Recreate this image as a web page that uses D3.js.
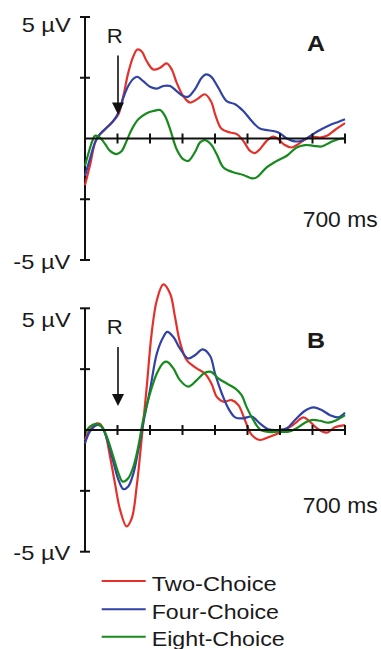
<!DOCTYPE html>
<html>
<head>
<meta charset="utf-8">
<script src="https://cdn.jsdelivr.net/npm/d3@7"></script>
<style>
  body { margin: 0; background: #fff; }
  svg text { font-family: "Liberation Sans", Arial, sans-serif; fill: #1a1a1a; }
</style>
</head>
<body>
<svg id="chart"></svg>
<script>
// values: [ms, µV]
var twoChoiceA = [[-100,-1.92],[-85,-1.12],[-64,0],[-38,0.38],[-13,0.72],[3,1.0],[18,1.75],[33,2.7],[49,3.39],[61,3.66],[74,3.59],[90,3.18],[110,2.84],[131,2.91],[151,3.09],[167,2.84],[182,2.3],[202,1.75],[223,1.48],[244,1.61],[269,1.82],[288,1.52],[302,0.93],[320,0.4],[346,0.25],[367,0.18],[387,-0.1],[408,-0.51],[423,-0.6],[438,-0.44],[459,-0.1],[479,0.08],[495,-0.03],[515,-0.27],[536,-0.37],[556,-0.23],[577,-0.03],[597,0.08],[623,0.04],[644,0.11],[669,0.35],[700,0.63]];
var fourChoiceA = [[-100,-1.53],[-85,-0.85],[-69,-0.16],[-54,0.18],[-33,0.45],[-13,0.72],[3,1.07],[18,1.68],[33,2.16],[49,2.46],[61,2.54],[79,2.36],[100,2.13],[121,2.05],[141,2.16],[162,2.16],[182,1.95],[202,1.75],[218,1.72],[238,2.02],[259,2.5],[272,2.64],[288,2.55],[310,2.09],[336,1.54],[362,1.41],[387,1.13],[413,0.72],[438,0.41],[464,0.34],[495,0.25],[521,0],[546,-0.12],[572,-0.07],[597,0.14],[623,0.35],[654,0.56],[679,0.68],[700,0.79]];
var eightChoiceA = [[-100,-1.12],[-90,-0.64],[-79,-0.16],[-69,0.11],[-54,0.04],[-38,-0.23],[-23,-0.51],[-3,-0.64],[13,-0.51],[28,-0.1],[44,0.38],[64,0.79],[90,1.04],[110,1.13],[131,1.17],[146,0.93],[162,0.38],[182,-0.44],[202,-0.85],[218,-0.92],[238,-0.57],[254,-0.16],[269,-0.07],[288,-0.25],[305,-0.64],[326,-1.19],[356,-1.39],[387,-1.5],[413,-1.64],[428,-1.6],[459,-1.19],[485,-0.96],[521,-0.71],[551,-0.37],[577,-0.27],[603,-0.3],[628,-0.33],[654,-0.16],[679,-0.03],[700,0]];

var twoChoiceB = [[-100,-0.41],[-85,0],[-64,0.27],[-54,0.25],[-38,-0.14],[-23,-1.09],[-8,-2.18],[8,-3.28],[28,-3.96],[44,-3.62],[59,-2.32],[74,-0.41],[90,1.78],[105,3.96],[121,5.33],[141,5.98],[162,5.6],[177,4.64],[192,3.62],[213,2.87],[244,2.53],[269,2.32],[290,1.88],[305,1.37],[326,1.16],[351,1.23],[372,1.02],[392,0.41],[413,-0.2],[438,-0.41],[464,-0.3],[490,-0.16],[515,0],[546,0.27],[572,0.52],[592,0.34],[618,0.03],[644,-0.11],[669,0.11],[700,0.2]];
var fourChoiceB = [[-100,-0.55],[-85,-0.07],[-64,0.2],[-49,0.14],[-33,-0.34],[-13,-1.3],[3,-2.05],[18,-2.43],[33,-2.32],[49,-1.78],[64,-0.82],[79,0.27],[100,1.64],[121,3.14],[141,3.82],[153,4.03],[172,3.82],[192,3.35],[218,2.94],[238,3.07],[262,3.31],[285,3.04],[300,2.32],[321,1.5],[341,0.89],[362,0.52],[387,0.48],[413,0.55],[438,0.27],[464,0.03],[495,0],[521,0.07],[546,0.41],[577,0.79],[603,0.93],[628,0.82],[654,0.61],[679,0.52],[700,0.71]];
var eightChoiceB = [[-100,-0.16],[-85,0.14],[-64,0.25],[-49,0.14],[-33,-0.27],[-13,-1.09],[3,-1.78],[16,-2.12],[33,-1.98],[49,-1.5],[64,-0.68],[79,0.41],[100,1.5],[121,2.32],[141,2.76],[153,2.8],[172,2.53],[192,2.05],[218,1.78],[244,2.05],[269,2.35],[288,2.39],[310,2.12],[336,1.91],[362,1.71],[382,1.43],[397,0.95],[418,0.41],[438,0.03],[464,-0.08],[495,-0.07],[526,-0.07],[551,0.07],[577,0.3],[597,0.41],[623,0.38],[649,0.3],[674,0.41],[700,0.61]];

var seriesNames = ["Two-Choice", "Four-Choice", "Eight-Choice"];
var seriesColors = ["#e5302a", "#3142a6", "#168a1c"];
var xTicks = [-100, 0, 100, 200, 300, 400, 500, 600, 700];
var yTicks = [-5, -2.5, 2.5, 5];

var width = 381, height = 649;
var svg = d3.select("#chart").attr("width", width).attr("height", height);

var x = d3.scaleLinear().domain([-100, 700]).range([85, 345]);

var panels = [
  { id: "A", data: [twoChoiceA, fourChoiceA, eightChoiceA], top: 17, bottom: 260,
    topLab: 14.7, botLab: 9, letterY: -87.6, msY: 88 },
  { id: "B", data: [twoChoiceB, fourChoiceB, eightChoiceB], top: 308.3, bottom: 551.7,
    topLab: 18.4, botLab: 7.8, letterY: -81.7, msY: 83.3 }
];

var line = d3.line()
  .x(function(d) { return x(d[0]); })
  .curve(d3.curveCatmullRom.alpha(0.5));

panels.forEach(function(p) {
  var y = d3.scaleLinear().domain([-5, 5]).range([p.bottom, p.top]);
  var y0 = y(0);
  var g = svg.append("g");

  // y axis
  g.append("line")
    .attr("x1", x(-100)).attr("x2", x(-100))
    .attr("y1", y(-5)).attr("y2", y(5))
    .attr("stroke", "#111").attr("stroke-width", 2);
  g.selectAll(".yt").data(yTicks).enter().append("line")
    .attr("x1", x(-100) - 5).attr("x2", x(-100) + 5)
    .attr("y1", function(d) { return y(d); }).attr("y2", function(d) { return y(d); })
    .attr("stroke", "#111").attr("stroke-width", 2);

  // curves
  p.data.forEach(function(s, i) {
    line.y(function(d) { return y(d[1]); });
    g.append("path")
      .attr("d", line(s))
      .attr("fill", "none")
      .attr("stroke", seriesColors[i])
      .attr("stroke-width", 2.2);
  });

  // x axis at zero
  g.append("line")
    .attr("x1", x(-100)).attr("x2", x(700))
    .attr("y1", y0).attr("y2", y0)
    .attr("stroke", "#111").attr("stroke-width", 2);
  g.selectAll(".xt").data(xTicks).enter().append("line")
    .attr("x1", function(d) { return x(d); }).attr("x2", function(d) { return x(d); })
    .attr("y1", y0 - 5).attr("y2", y0 + 5)
    .attr("stroke", "#111").attr("stroke-width", 2);

  // labels
  g.append("text").attr("x", 21.7).attr("y", y(5) + p.topLab)
    .attr("font-size", 21).attr("textLength", 49).attr("lengthAdjust", "spacingAndGlyphs")
    .text("5 µV");
  g.append("text").attr("x", 13.3).attr("y", y(-5) + p.botLab)
    .attr("font-size", 21).attr("textLength", 57).attr("lengthAdjust", "spacingAndGlyphs")
    .text("-5 µV");
  g.append("text").attr("x", 302.7).attr("y", y0 + p.msY)
    .attr("font-size", 22).attr("textLength", 75).attr("lengthAdjust", "spacingAndGlyphs")
    .text("700 ms");
  g.append("text").attr("x", 307).attr("y", y0 + p.letterY)
    .attr("font-size", 22).attr("font-weight", "bold")
    .attr("textLength", 18).attr("lengthAdjust", "spacingAndGlyphs")
    .text(p.id);

  // response marker
  g.append("text").attr("x", 106.7).attr("y", y0 - 96)
    .attr("font-size", 20).attr("textLength", 16).attr("lengthAdjust", "spacingAndGlyphs")
    .text("R");
  var ax = x(0) + 0.5;
  g.append("line")
    .attr("x1", ax).attr("x2", ax)
    .attr("y1", y0 - 83).attr("y2", y0 - 34)
    .attr("stroke", "#111").attr("stroke-width", 1.6);
  g.append("path")
    .attr("d", "M" + (ax - 6) + "," + (y0 - 36) + "L" + (ax + 6) + "," + (y0 - 36) + "L" + ax + "," + (y0 - 24) + "Z")
    .attr("fill", "#111");
});

// legend
var legend = svg.append("g");
var legY = [581, 609.3, 636.7];
seriesNames.forEach(function(name, i) {
  legend.append("line")
    .attr("x1", 101.7).attr("x2", 145.7)
    .attr("y1", legY[i]).attr("y2", legY[i])
    .attr("stroke", seriesColors[i]).attr("stroke-width", 2);
  legend.append("text")
    .attr("x", 151.7).attr("y", legY[i] + 9.5)
    .attr("font-size", 21)
    .attr("textLength", [125, 127.3, 133][i]).attr("lengthAdjust", "spacingAndGlyphs")
    .text(name);
});
</script>
</body>
</html>
